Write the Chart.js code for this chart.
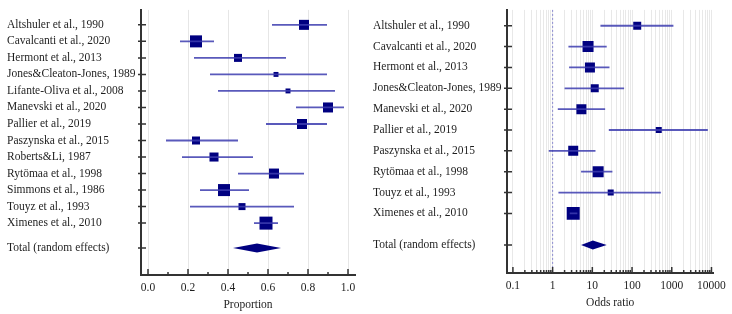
<!DOCTYPE html>
<html>
<head>
<meta charset="utf-8">
<script src="https://cdn.jsdelivr.net/npm/chart.js@4"></script>
<style>
body { margin: 0; background: #fff; }
#wrap { position: relative; width: 732px; height: 314px; }
canvas { position: absolute; top: 0; }
</style>
</head>
<body>
<div id="wrap">
<canvas id="propChart" width="366" height="314" style="left:0"></canvas>
<canvas id="orChart" width="366" height="314" style="left:366px"></canvas>
</div>
<script>
// 왼쪽: 비율 (proportion)
const propStudies = ['Altshuler et al., 1990', 'Cavalcanti et al., 2020', 'Hermont et al., 2013',
    'Jones&Cleaton-Jones, 1989', 'Lifante-Oliva et al., 2008', 'Manevski et al., 2020',
    'Pallier et al., 2019', 'Paszynska et al., 2015', 'Roberts&Li, 1987', 'Rytömaa et al., 1998',
    'Simmons et al., 1986', 'Touyz et al., 1993', 'Ximenes et al., 2010'];
const propEst = [0.78, 0.24, 0.45, 0.64, 0.70, 0.90, 0.77, 0.24, 0.33, 0.63, 0.38, 0.47, 0.59];
const propLow = [0.62, 0.16, 0.23, 0.31, 0.35, 0.74, 0.59, 0.09, 0.17, 0.45, 0.26, 0.21, 0.53];
const propHigh = [0.895, 0.33, 0.69, 0.895, 0.935, 0.98, 0.895, 0.45, 0.525, 0.78, 0.505, 0.73, 0.65];
const propWeight = [8.6, 12.4, 5.5, 2.1, 2.1, 8.6, 8.6, 5.5, 7.0, 8.6, 12.4, 4.2, 14.5];
const propTotal = [0.545, 0.425, 0.665]; // 추정치, 하한, 상한
const propTicks = [0, 0.2, 0.4, 0.6, 0.8, 1.0];

// 오른쪽: 오즈비 (odds ratio)
const orStudies = ['Altshuler et al., 1990', 'Cavalcanti et al., 2020', 'Hermont et al., 2013',
    'Jones&Cleaton-Jones, 1989', 'Manevski et al., 2020', 'Pallier et al., 2019',
    'Paszynska et al., 2015', 'Rytömaa et al., 1998', 'Touyz et al., 1993', 'Ximenes et al., 2010'];
const orEst = [135, 7.8, 8.7, 11.5, 5.3, 470, 3.3, 14, 29, 3.3];
const orLow = [16, 2.5, 2.6, 2.0, 1.35, 26, 0.8, 5.2, 1.4, 2.7];
const orHigh = [1100, 23, 27, 63, 21, 8100, 12, 32, 530, 4.2];
const orWeight = [7.0, 13.3, 11.0, 7.0, 11.0, 4.0, 11.0, 13.3, 4.0, 18.6];
const orTotal = [10.3, 5.2, 23]; // 추정치, 하한, 상한
const orTickLabels = ['0.1', '1', '10', '100', '1000', '10000'];

const TEXT = '#1e1e1e';
const NAVY = '#000080';
const CI_COLOR = 'rgba(60,60,175,0.85)';
const FONT = { family: "'Liberation Serif', 'DejaVu Serif', serif", size: 11.5 };

// 포리스트 플롯 데이터셋 만들기
function buildDatasets(est, low, high, weight, k) {
    const sets = est.map((e, i) => ({
        type: 'line',
        data: [{ x: low[i], y: i }, { x: high[i], y: i }],
        borderColor: CI_COLOR,
        borderWidth: 1.8,
        pointRadius: 0,
        fill: false
    }));
    sets.push({
        type: 'scatter',
        data: est.map((e, i) => ({ x: e, y: i })),
        pointStyle: 'rect',
        pointRadius: weight.map(w => Math.sqrt(w) * k * Math.SQRT2),
        backgroundColor: NAVY,
        borderWidth: 0
    });
    return sets;
}

// 다이아몬드 + 안쪽 눈금 그리기
function forestPlugin(total, totalRow, rows, xMajor, xMinor, refLine) {
    return {
        id: 'forest',
        beforeDatasetsDraw(chart) {
            if (refLine === undefined) return;
            const { ctx, chartArea, scales } = chart;
            const px = scales.x.getPixelForValue(refLine);
            ctx.save();
            ctx.strokeStyle = '#8b8bd0';
            ctx.lineWidth = 1;
            ctx.setLineDash([2, 2]);
            ctx.beginPath();
            ctx.moveTo(px, chartArea.top);
            ctx.lineTo(px, chartArea.bottom);
            ctx.stroke();
            ctx.restore();
        },
        afterDatasetsDraw(chart) {
            const { ctx, chartArea, scales } = chart;
            const x = scales.x, y = scales.y;
            const yc = y.getPixelForValue(totalRow);
            ctx.save();
            ctx.fillStyle = NAVY;
            ctx.beginPath();
            ctx.moveTo(x.getPixelForValue(total[1]), yc);
            ctx.lineTo(x.getPixelForValue(total[0]), yc - 4.5);
            ctx.lineTo(x.getPixelForValue(total[2]), yc);
            ctx.lineTo(x.getPixelForValue(total[0]), yc + 4.5);
            ctx.closePath();
            ctx.fill();

            ctx.strokeStyle = '#333';
            ctx.lineWidth = 1.5;
            ctx.beginPath();
            rows.forEach(r => {
                const py = y.getPixelForValue(r);
                ctx.moveTo(chartArea.left - 3, py);
                ctx.lineTo(chartArea.left + 5, py);
            });
            xMajor.forEach(v => {
                const px = x.getPixelForValue(v);
                ctx.moveTo(px, chartArea.bottom + 1);
                ctx.lineTo(px, chartArea.bottom - 6);
            });
            xMinor.forEach(v => {
                const px = x.getPixelForValue(v);
                ctx.moveTo(px, chartArea.bottom + 1);
                ctx.lineTo(px, chartArea.bottom - 3);
            });
            ctx.stroke();
            ctx.restore();
        }
    };
}

function yAxis(labels, rows, min, max) {
    return {
        type: 'linear',
        reverse: true,
        min: min,
        max: max,
        afterBuildTicks: ax => { ax.ticks = rows.map(v => ({ value: v })); },
        afterFit: ax => { ax.width = 134; },
        ticks: {
            autoSkip: false,
            crossAlign: 'far',
            color: TEXT,
            font: FONT,
            callback: (v, i) => labels[i]
        },
        grid: { display: false, drawTicks: false },
        border: { color: '#333', width: 2 }
    };
}

// 왼쪽 차트
const propRows = propStudies.map((s, i) => i).concat([13.5]);
const propMinor = [0.1, 0.3, 0.5, 0.7, 0.9];
new Chart(document.getElementById('propChart').getContext('2d'), {
    data: { datasets: buildDatasets(propEst, propLow, propHigh, propWeight, 1.707) },
    options: {
        responsive: false,
        animation: false,
        layout: { padding: { left: 7, right: 11, top: 9, bottom: 0 } },
        plugins: { legend: { display: false }, tooltip: { enabled: false } },
        scales: {
            x: {
                type: 'linear',
                min: -0.035,
                max: 1.035,
                afterBuildTicks: ax => { ax.ticks = propTicks.map(v => ({ value: v })); },
                afterFit: ax => { ax.height = 39; },
                ticks: { color: TEXT, font: FONT, padding: 6, maxRotation: 0, callback: v => v.toFixed(1) },
                grid: { color: '#e6e6e6', drawTicks: false },
                border: { color: '#333', width: 2 },
                title: { display: true, text: 'Proportion', color: TEXT, font: FONT, padding: { top: 2, bottom: 2 } }
            },
            y: yAxis(propStudies.concat(['Total (random effects)']), propRows, -0.905, 15.14)
        }
    },
    plugins: [forestPlugin(propTotal, 13.5, propRows, propTicks, propMinor)]
});

// 오른쪽 차트 (로그 스케일)
const orGridVals = [];
for (let k = -1; k <= 4; k++) {
    for (let m = 1; m <= 9; m++) {
        if (k === 4 && m > 1) break;
        orGridVals.push(Number((m * Math.pow(10, k)).toPrecision(3)));
    }
}
const orMajor = orGridVals.filter((v, i) => i % 9 === 0);
const orMinor = orGridVals.filter((v, i) => i % 9 !== 0);
const orRows = orStudies.map((s, i) => i).concat([10.52]);
new Chart(document.getElementById('orChart').getContext('2d'), {
    data: { datasets: buildDatasets(orEst, orLow, orHigh, orWeight, 1.507) },
    options: {
        responsive: false,
        animation: false,
        layout: { padding: { left: 7, right: 15, top: 8, bottom: 0 } },
        plugins: { legend: { display: false }, tooltip: { enabled: false } },
        scales: {
            x: {
                type: 'logarithmic',
                min: 0.071,
                max: 11200,
                afterBuildTicks: ax => { ax.ticks = orGridVals.map(v => ({ value: v })); },
                afterFit: ax => { ax.height = 41; },
                ticks: {
                    autoSkip: false, color: TEXT, font: FONT, padding: 6, maxRotation: 0,
                    callback: (v, i) => (i % 9 === 0 ? orTickLabels[i / 9] : '')
                },
                grid: { color: '#e8e8e8', drawTicks: false },
                border: { color: '#333', width: 2 },
                title: { display: true, text: 'Odds ratio', color: TEXT, font: FONT, padding: { top: 2, bottom: 4 } }
            },
            y: yAxis(orStudies.concat(['Total (random effects)']), orRows, -0.76, 11.86)
        }
    },
    plugins: [forestPlugin(orTotal, 10.52, orRows, orMajor, orMinor, 1)]
});
</script>
</body>
</html>
